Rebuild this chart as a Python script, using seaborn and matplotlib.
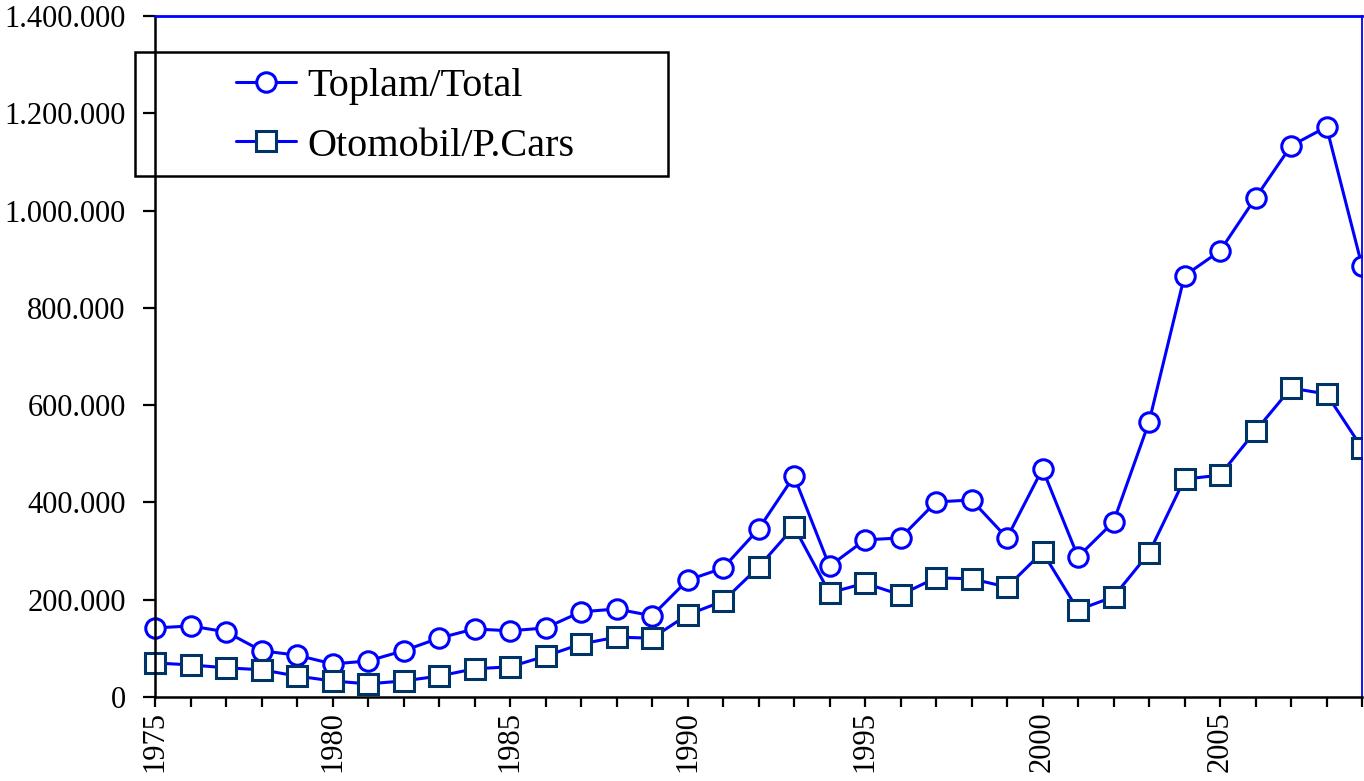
import matplotlib
matplotlib.use("Agg")
import matplotlib.pyplot as plt
from matplotlib.patches import Rectangle
from matplotlib.ticker import FuncFormatter, MultipleLocator
import seaborn as sns
import pandas as pd

years = list(range(1975, 2010))
toplam = [142000, 146000, 134000, 95000, 86000, 68000, 74000, 95000, 121000, 140000,
          136000, 142000, 175000, 181000, 167000, 240000, 265000, 345000, 454000, 269000,
          323000, 327000, 401000, 405000, 327000, 469000, 288000, 360000, 565000, 866000,
          917000, 1026000, 1133000, 1172000, 886000]
otomobil = [70000, 66000, 60000, 56000, 43000, 33000, 27000, 33000, 43000, 58000,
            62000, 84000, 109000, 123000, 121000, 169000, 197000, 267000, 350000, 214000,
            234000, 210000, 245000, 243000, 226000, 298000, 179000, 206000, 296000, 448000,
            456000, 547000, 635000, 623000, 512000]

df = pd.DataFrame({"YIL": years, "Toplam/Total": toplam, "Otomobil/P.Cars": otomobil})

sns.set_style("white")
plt.rcParams['font.family'] = ['Liberation Serif', 'DejaVu Serif']
plt.rcParams['text.color'] = 'black'
plt.rcParams['xtick.color'] = 'black'
plt.rcParams['ytick.color'] = 'black'

W, H = 1364, 781
fig = plt.figure(figsize=(W / 100, H / 100), dpi=100)
ax = fig.add_axes([155 / W, 1 - 697 / H, (1362 - 155) / W, (697 - 16) / H])

line_blue = "#0000ff"
sns.lineplot(data=df, x="YIL", y="Toplam/Total", ax=ax, color=line_blue, lw=2.2,
             marker="o", markersize=14, markerfacecolor="white", markeredgecolor=line_blue,
             markeredgewidth=2.2, label="Toplam/Total")
sns.lineplot(data=df, x="YIL", y="Otomobil/P.Cars", ax=ax, color=line_blue, lw=2.2,
             marker="s", markersize=14, markerfacecolor="white", markeredgecolor="#003366",
             markeredgewidth=2.2, label="Otomobil/P.Cars")

# let the markers spill over the left spine but stay clipped at the right
clip = Rectangle((-0.03, 0), 1.03, 1, transform=ax.transAxes, fill=False)
for ln in ax.lines:
    ln.set_clip_path(clip)

ax.set_xlim(1975, 2009)
ax.set_ylim(0, 1400000)
ax.set_xticks(years)
ax.set_xticklabels([str(y) if y % 5 == 0 else "" for y in years], rotation=90)
ax.yaxis.set_major_locator(MultipleLocator(200000))
ax.yaxis.set_major_formatter(FuncFormatter(lambda v, p: f"{v:,.0f}".replace(",", ".")))
ax.set_xlabel("")
ax.set_ylabel("")

ax.tick_params(axis="y", direction="out", length=9, width=1.6, colors="black",
               labelsize=22, pad=12, left=True)
ax.tick_params(axis="x", direction="out", length=7, width=1.6, colors="black",
               labelsize=22, pad=3, bottom=True)

for s in ["left", "bottom"]:
    ax.spines[s].set_color("black")
    ax.spines[s].set_linewidth(1.8)
ax.spines["top"].set_color(line_blue)
ax.spines["top"].set_linewidth(2.0)
ax.spines["right"].set_color(line_blue)
ax.spines["right"].set_linewidth(1.3)

leg = ax.legend(loc="upper left", bbox_to_anchor=(236 / W, 1 - 68 / H), bbox_transform=fig.transFigure,
                frameon=False, fontsize=29, borderpad=0, handlelength=1.5, handletextpad=0.28,
                labelspacing=0.55, borderaxespad=0)
for t in leg.get_texts():
    t.set_color("black")
fig.patches.append(Rectangle((135 / W, 1 - 176 / H), (668 - 135) / W, (176 - 52) / H,
                             transform=fig.transFigure, fill=False, edgecolor="black",
                             linewidth=1.8, figure=fig))

fig.savefig("out.png", dpi=100)
